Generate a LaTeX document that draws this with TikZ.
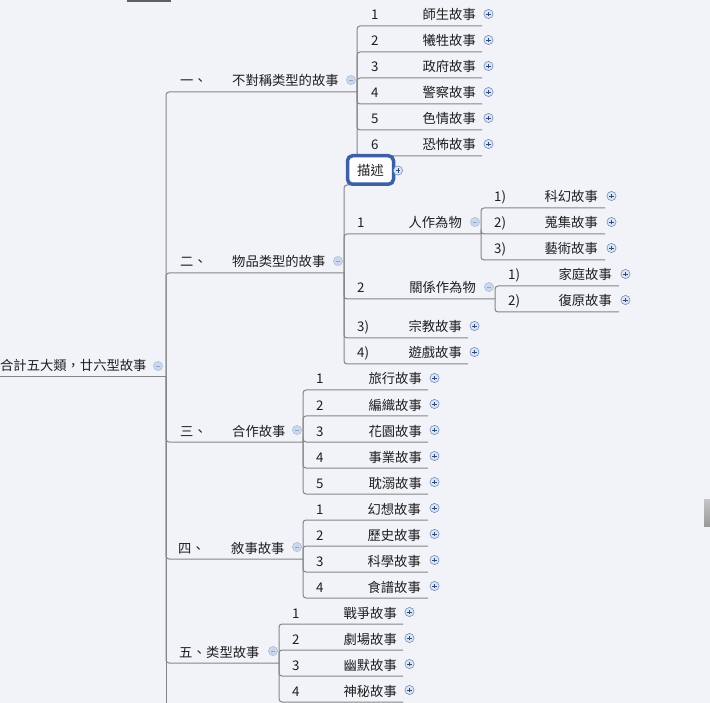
\documentclass[tikz,border=0pt]{standalone}
\usepackage{fontspec}
\setmainfont{Noto Sans CJK TC}
\definecolor{bg}{HTML}{F1F3F8}
\definecolor{ln}{HTML}{858585}
\definecolor{tx}{HTML}{1E1E1E}
\definecolor{pfill}{HTML}{DCE5F2}
\definecolor{pdraw}{HTML}{7490BC}
\definecolor{pmark}{HTML}{2E4C80}
\definecolor{mfill}{HTML}{CBD7EA}
\definecolor{mdraw}{HTML}{B0C1DC}
\definecolor{mmark}{HTML}{8FA6CA}
\definecolor{sel}{HTML}{3C5FA6}
\tikzset{
  conn/.style={draw=ln,line width=1pt,rounded corners=3pt},
  lbl/.style={inner sep=0pt,text=tx,font=\fontsize{13.3}{16}\selectfont},
  plusicon/.pic={
    \begin{scope}[xshift=6.5pt]
      \draw[fill=pfill,draw=pdraw,line width=0.6pt] (0pt,0pt) circle (4.6pt);
      \draw[pmark,line width=0.9pt] (-2.4pt,0pt)--(2.4pt,0pt) (0pt,-2.4pt)--(0pt,2.4pt);
    \end{scope}},
  minusicon/.pic={
    \begin{scope}[xshift=-6pt]
      \draw[fill=mfill,draw=mdraw,line width=0.6pt] (0pt,0pt) circle (4.6pt);
      \draw[mmark,line width=0.9pt] (-2.4pt,0pt)--(2.4pt,0pt);
    \end{scope}}
}
% name, parent, underline y, underline end x, number x, number, text east x, text, icon
\newcommand\mmrow[9]{%
  \coordinate (#1) at (#4,#3);
  \draw[conn] (#2) |- (#1);
  \node[lbl,anchor=base west] (#1n) at (#5,#3-6) {#6};
  \node[lbl,anchor=base east] (#1t) at (#7,#3-6) {#8};
  \pic at (#4,#3-12) {#9};
}
% name, underline y, underline end x, number x, number, text west x, text
\newcommand\mmtop[7]{%
  \coordinate (#1) at (#3,#2);
  \draw[conn] (R) |- (#1);
  \node[lbl,anchor=base west] (#1n) at (#4,#2-6) {#5};
  \node[lbl,anchor=base west] (#1t) at (#6,#2-6) {#7};
  \pic at (#3,#2-12) {minusicon};
}
\begin{document}
\begin{tikzpicture}[x=1pt,y=-1pt]
\fill[bg] (0,0) rectangle (710,703);
\useasboundingbox (0,0) rectangle (710,703);
% decorations at the edges
\fill[gray!75!black] (127,0) rectangle (171,1.6);
\shade[top color=gray!45,bottom color=gray!80] (704,499) rectangle (710,526);
% root
\coordinate (R0) at (0,377);
\coordinate (R) at (166,377);
\coordinate (trunkend) at (166,703);
\node[lbl,anchor=base west] (root) at (0,371) {合計五大類，廿六型故事};
\draw[conn] (R0) -- (R);
\draw[conn] (R) -- (trunkend);
\pic at (164,366) {minusicon};
% level 1
\mmtop{A}{92}{357}{180}{一、}{232}{不對稱类型的故事}
\mmtop{B}{273}{344}{180}{二、}{232}{物品类型的故事}
\mmtop{C}{442}{303}{180}{三、}{232}{合作故事}
\mmtop{D}{559}{303}{178}{四、}{231}{敘事故事}
\mmtop{E}{663}{279}{179}{五、}{206}{类型故事}
% A children
\mmrow{A1}{A}{26}{482}{371}{1}{476}{師生故事}{plusicon}
\mmrow{A2}{A}{52}{482}{371}{2}{476}{犧牲故事}{plusicon}
\mmrow{A3}{A}{78}{482}{371}{3}{476}{政府故事}{plusicon}
\mmrow{A4}{A}{104}{482}{371}{4}{476}{警察故事}{plusicon}
\mmrow{A5}{A}{130}{482}{371}{5}{476}{色情故事}{plusicon}
\mmrow{A6}{A}{156}{482}{371}{6}{476}{恐怖故事}{plusicon}
% B children
\coordinate (Bd) at (351,185);
\draw[conn] (B) |- (Bd);
\node[lbl,draw=sel,line width=3.5pt,fill=white,rounded corners=5pt,
  minimum width=46pt,minimum height=28.5pt] (dsc) at (370.5,170) {描述};
\pic at (391.5,170.5) {plusicon};
\mmrow{B1}{B}{234}{481}{357}{1}{462}{人作為物}{minusicon}
\mmrow{B1a}{B1}{208}{605}{494}{1)}{598}{科幻故事}{plusicon}
\mmrow{B1b}{B1}{234}{605}{494}{2)}{598}{蒐集故事}{plusicon}
\mmrow{B1c}{B1}{260}{605}{494}{3)}{598}{藝術故事}{plusicon}
\mmrow{B2}{B}{299}{495}{357}{2}{476}{關係作為物}{minusicon}
\mmrow{B2a}{B2}{286}{619}{508}{1)}{612}{家庭故事}{plusicon}
\mmrow{B2b}{B2}{312}{619}{508}{2)}{612}{復原故事}{plusicon}
\mmrow{B3}{B}{338}{468}{357}{3)}{462}{宗教故事}{plusicon}
\mmrow{B4}{B}{364}{468}{357}{4)}{462}{遊戲故事}{plusicon}
% C children
\mmrow{C1}{C}{390}{428}{316}{1}{422}{旅行故事}{plusicon}
\mmrow{C2}{C}{416}{428}{316}{2}{422}{編織故事}{plusicon}
\mmrow{C3}{C}{442}{428}{316}{3}{422}{花園故事}{plusicon}
\mmrow{C4}{C}{468}{428}{316}{4}{422}{事業故事}{plusicon}
\mmrow{C5}{C}{494}{428}{316}{5}{422}{耽溺故事}{plusicon}
% D children
\mmrow{D1}{D}{520}{428}{316}{1}{421}{幻想故事}{plusicon}
\mmrow{D2}{D}{546}{428}{316}{2}{421}{歷史故事}{plusicon}
\mmrow{D3}{D}{572}{428}{316}{3}{421}{科學故事}{plusicon}
\mmrow{D4}{D}{598}{428}{316}{4}{421}{食譜故事}{plusicon}
% E children
\mmrow{E1}{E}{624}{403}{292}{1}{397}{戰爭故事}{plusicon}
\mmrow{E2}{E}{650}{403}{292}{2}{397}{劇場故事}{plusicon}
\mmrow{E3}{E}{676}{403}{292}{3}{397}{幽默故事}{plusicon}
\mmrow{E4}{E}{702}{403}{292}{4}{397}{神秘故事}{plusicon}
\end{tikzpicture}
\end{document}
